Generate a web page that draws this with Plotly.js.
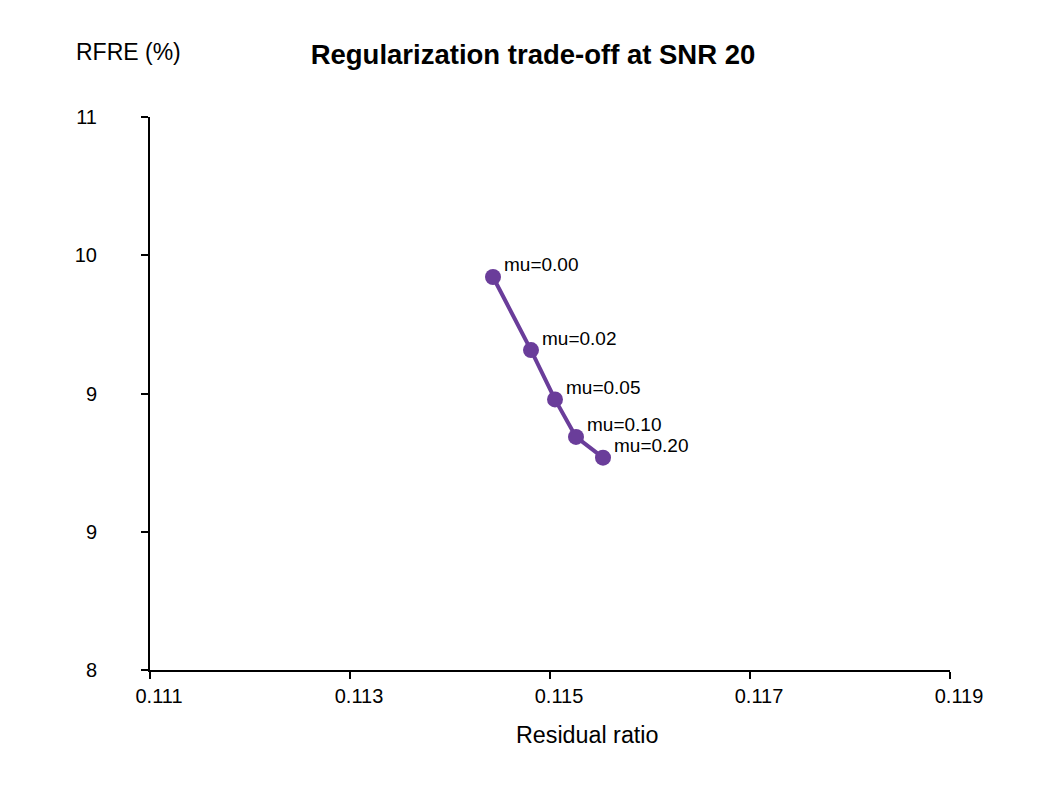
<!DOCTYPE html>
<html>
<head>
<meta charset="utf-8">
<script src="https://cdn.plot.ly/plotly-3.0.1.min.js"></script>
<style>
  html, body { margin: 0; padding: 0; background: #ffffff; }
  #plot { width: 1050px; height: 800px; }
</style>
</head>
<body>
<div id="plot"></div>
<script>
// residual ratio vs RFRE for each regularization weight
const muLabels = ["mu=0.00", "mu=0.02", "mu=0.05", "mu=0.10", "mu=0.20"];
const residualRatio = [0.11443, 0.11481, 0.11505, 0.11526, 0.11553];
const rfre = [9.99, 9.62, 9.37, 9.18, 9.075];

const xTicks = [0.111, 0.113, 0.115, 0.117, 0.119];
const yTicks = [8, 8.7, 9.4, 10.1, 10.8];

const FONT = "Liberation Sans, Arial, sans-serif";

function drawChart() {
    const data = [
        {
            x: residualRatio,
            y: rfre,
            mode: "lines+markers",
            line: { color: "#6a3d9a", width: 4 },
            marker: { color: "#6a3d9a", size: 16 },
            cliponaxis: false,
            hoverinfo: "skip"
        }
    ];

    // point labels sit just up and right of each marker
    const pointLabels = muLabels.map((t, i) => ({
        text: t,
        x: residualRatio[i],
        y: rfre[i],
        xref: "x", yref: "y",
        xanchor: "left", yanchor: "middle",
        xshift: 9, yshift: 12,
        showarrow: false,
        font: { family: FONT, size: 19, color: "#000000" }
    }));

    const layout = {
        width: 1050,
        height: 800,
        paper_bgcolor: "#ffffff",
        plot_bgcolor: "#ffffff",
        showlegend: false,
        font: { family: FONT, size: 20, color: "#000000" },
        margin: { l: 150, r: 100, t: 117, b: 130 },
        title: {
            text: "<b>Regularization trade-off at SNR 20</b>",
            font: { family: FONT, size: 27.5, color: "#000000" },
            x: 533 / 1050,
            xanchor: "center",
            y: 1 - 54 / 800,
            yanchor: "middle"
        },
        xaxis: {
            range: [0.111, 0.119],
            tickvals: xTicks,
            tickformat: ".3f",
            showgrid: false,
            zeroline: false,
            showline: true,
            linecolor: "#000000",
            linewidth: 2,
            ticks: "outside",
            ticklen: 7,
            tickwidth: 2,
            tickcolor: "#000000",
            ticklabelshift: 9,
            tickfont: { family: FONT, size: 20 }
        },
        yaxis: {
            range: [8, 10.8],
            tickvals: yTicks,
            tickformat: ".0f",
            showgrid: false,
            zeroline: false,
            showline: true,
            linecolor: "#000000",
            linewidth: 2,
            ticks: "outside",
            ticklen: 7,
            tickwidth: 2,
            tickcolor: "#000000",
            ticklabelstandoff: 40,
            tickfont: { family: FONT, size: 20 }
        },
        annotations: [
            {
                text: "RFRE (%)",
                xref: "paper", yref: "paper",
                x: (128 - 150) / 800, y: 1 + (117 - 52) / 553,
                xanchor: "center", yanchor: "middle",
                showarrow: false,
                font: { family: FONT, size: 23 }
            },
            {
                text: "Residual ratio",
                xref: "paper", yref: "paper",
                x: (587 - 150) / 800, y: -(735 - 670) / 553,
                xanchor: "center", yanchor: "middle",
                showarrow: false,
                font: { family: FONT, size: 23.3 }
            }
        ].concat(pointLabels)
    };

    Plotly.newPlot("plot", data, layout, { displayModeBar: false, staticPlot: true });
}

document.addEventListener("DOMContentLoaded", drawChart);
</script>
</body>
</html>
